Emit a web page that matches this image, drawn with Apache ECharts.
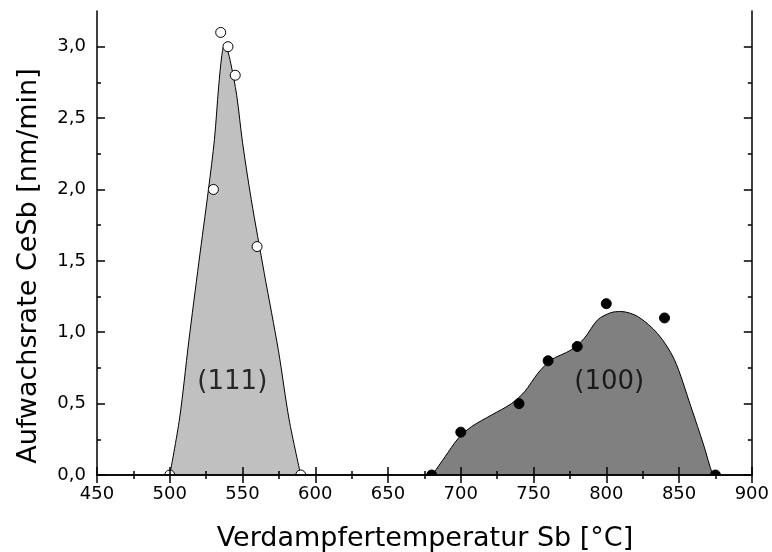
<!DOCTYPE html>
<html>
<head>
<meta charset="utf-8">
<script src="https://cdn.jsdelivr.net/npm/echarts@6/dist/echarts.min.js"></script>
<style>
  html, body { margin: 0; padding: 0; background: #fff; }
  #chart { width: 772px; height: 552px; }
</style>
</head>
<body>
<div id="chart"></div>
<script>
// Measured growth rates of CeSb vs. Sb evaporator temperature
const pts111 = [[500, 0], [530, 2.0], [535, 3.1], [540, 3.0], [545, 2.8], [560, 1.6], [590, 0]];
const pts100 = [[680, 0], [700, 0.3], [740, 0.5], [760, 0.8], [780, 0.9], [800, 1.2], [840, 1.1], [875, 0]];

// Guide-to-the-eye envelopes drawn under each data set
const curve111 = [
  [500, 0], [506.8, 0.4], [513, 0.93], [520, 1.49], [526.6, 2.0], [530.7, 2.35],
  [533.6, 2.72], [535.8, 2.94], [537.5, 3.01], [539.5, 2.98], [542, 2.88], [546, 2.66],
  [550, 2.33], [556, 1.93], [565, 1.41], [574.7, 0.87], [582, 0.39], [590, 0]
];
const curve100 = [
  [680, 0], [681.2, 0.012], [689.2, 0.128], [698.3, 0.257], [707.4, 0.339], [721.1, 0.42],
  [734.8, 0.50], [743.9, 0.584], [753, 0.713], [762.1, 0.806], [775.8, 0.876], [784.9, 0.958],
  [794, 1.086], [803.1, 1.137], [810, 1.145], [821.6, 1.11], [835.3, 0.99], [846.7, 0.81],
  [858.1, 0.48], [867.2, 0.20], [872.9, 0.01], [875, 0]
];

// Orientation labels placed in data coordinates
const phaseLabels = [
  { name: '(111)', value: [543, 0.65] },
  { name: '(100)', value: [802, 0.65] }
];

const xTitle = 'Verdampfertemperatur Sb [°C]';
const yTitle = 'Aufwachsrate CeSb [nm/min]';
const yMajor = [0, 0.5, 1.0, 1.5, 2.0, 2.5, 3.0];
const yMinor = [0.25, 0.75, 1.25, 1.75, 2.25, 2.75];

const FONT = 'DejaVu Sans';
const axisLine = { show: true, lineStyle: { color: '#000', width: 1.5 } };

function xAxisDef(pos, labels) {
  return {
    type: 'value', position: pos, min: 450, max: 900, interval: 50, z: 10,
    axisLine: axisLine,
    axisTick: { show: true, inside: true, length: 8, lineStyle: { color: '#000', width: 1.5 } },
    minorTick: { show: true, splitNumber: 2, length: 4, lineStyle: { color: '#000', width: 1.5 } },
    axisLabel: { show: labels, color: '#000', fontFamily: FONT, fontSize: 18, margin: 10 },
    splitLine: { show: false }, minorSplitLine: { show: false }
  };
}
function yAxisDef(pos, ticks, len, labels) {
  return {
    type: 'value', position: pos, min: 0, max: 3.25, z: 10,
    axisLine: len === 8 ? axisLine : { show: false },
    axisTick: { show: true, inside: true, length: len, customValues: ticks,
                lineStyle: { color: '#000', width: 1.5 } },
    axisLabel: { show: labels, customValues: ticks, color: '#000', fontFamily: FONT, fontSize: 18, margin: 11,
                 formatter: v => v.toFixed(1).replace('.', ',') },
    splitLine: { show: false }
  };
}

const chart = echarts.init(document.getElementById('chart'), null, { renderer: 'canvas' });
chart.setOption({
  backgroundColor: '#fff',
  animation: false,
  grid: { left: 97, right: 17, top: 11, bottom: 77, containLabel: false },
  xAxis: [xAxisDef('bottom', true), xAxisDef('top', false)],
  yAxis: [
    yAxisDef('left', yMajor, 8, true),
    yAxisDef('left', yMinor, 4, false),
    yAxisDef('right', yMajor, 8, false),
    yAxisDef('right', yMinor, 4, false)
  ],
  graphic: [
    // white band under the plot frame so markers sitting on zero are cut at the axis
    { type: 'rect', z: 8, silent: true,
      shape: { x: 60, y: 475.8, width: 712, height: 12 }, style: { fill: '#fff' } },
    { type: 'text', x: 425, y: 539, silent: true,
      style: { text: xTitle, fill: '#000', font: '27px "' + FONT + '"',
               textAlign: 'center', textVerticalAlign: 'middle' } },
    { type: 'text', x: 29, y: 266, rotation: Math.PI / 2, silent: true,
      style: { text: yTitle, fill: '#000', font: '27px "' + FONT + '"',
               textAlign: 'center', textVerticalAlign: 'middle' } }
  ],
  series: [
    {
      type: 'line', data: curve111, smooth: 0.3, symbol: 'none', z: 2,
      lineStyle: { color: '#000', width: 1 },
      areaStyle: { color: '#c0c0c0', opacity: 1 }
    },
    {
      type: 'line', data: curve100, smooth: 0.3, symbol: 'none', z: 2,
      lineStyle: { color: '#000', width: 1 },
      areaStyle: { color: '#808080', opacity: 1 }
    },
    {
      type: 'scatter', data: pts111, symbol: 'circle', symbolSize: 10, z: 4,
      itemStyle: { color: '#fff', borderColor: '#000', borderWidth: 1, opacity: 1 }
    },
    {
      type: 'scatter', data: pts100, symbol: 'circle', symbolSize: 10, z: 4,
      itemStyle: { color: '#000', borderColor: '#000', borderWidth: 1, opacity: 1 }
    },
    {
      type: 'scatter', data: phaseLabels, symbolSize: 0, z: 5, silent: true,
      label: { show: true, position: 'inside', formatter: p => p.name,
               color: '#000', fontFamily: FONT, fontSize: 26 }
    }
  ]
});
</script>
</body>
</html>
